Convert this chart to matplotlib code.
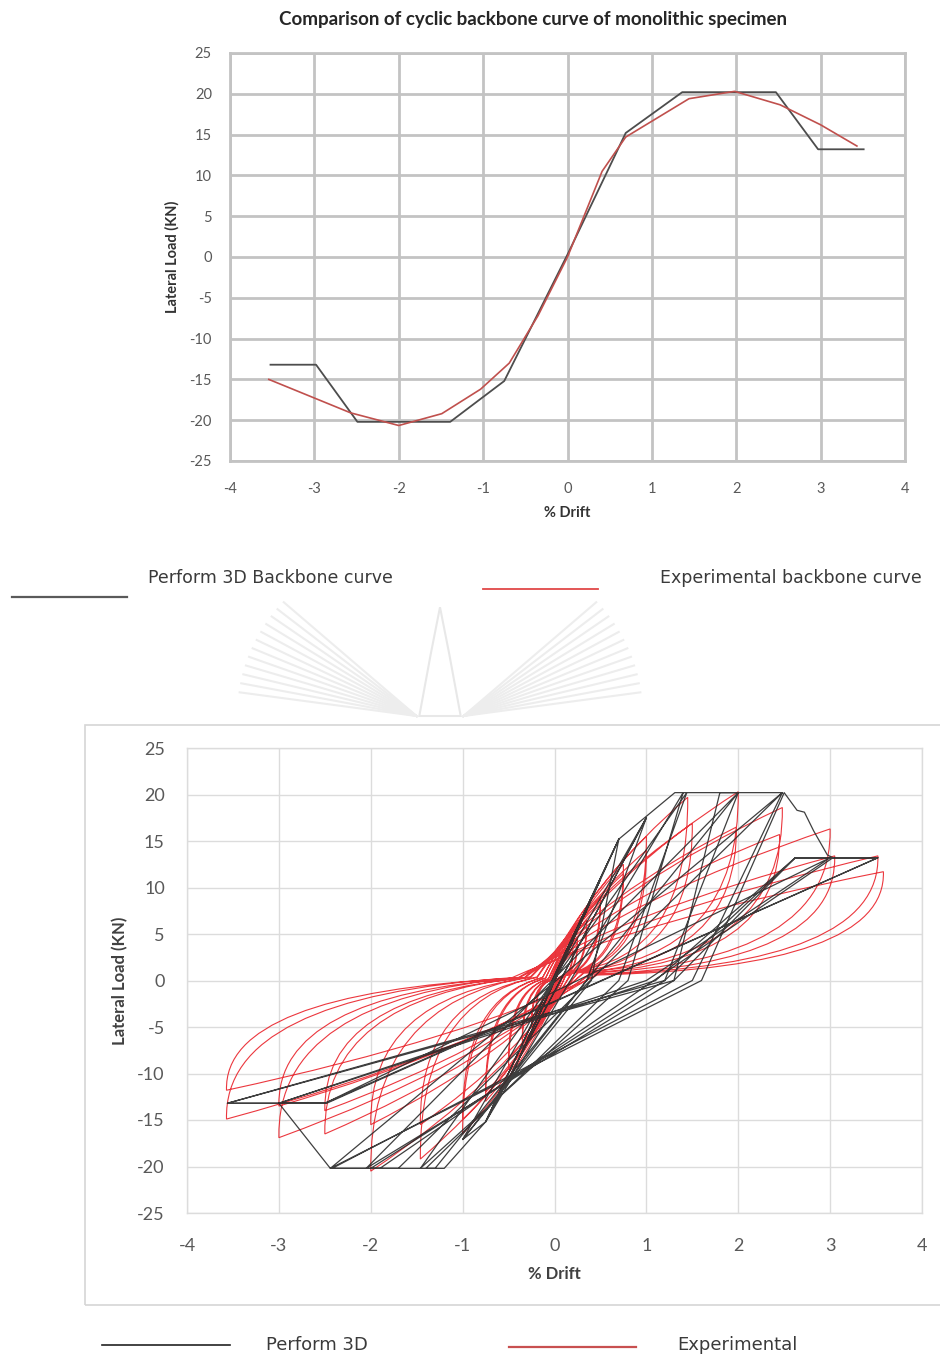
import numpy as np
import matplotlib
matplotlib.use("Agg")
import matplotlib.pyplot as plt
from matplotlib.path import Path
from matplotlib.patches import PathPatch, Rectangle, Polygon
from matplotlib.lines import Line2D

plt.rcParams['font.family'] = ['Lato', 'DejaVu Sans']
plt.rcParams['axes.unicode_minus'] = False

# --- top chart: backbone curves ---
pf3d_bb_x = [-3.52, -2.98, -2.49, -1.39, -0.75, 0.0, 0.69, 1.36, 2.47, 2.97, 3.51]
pf3d_bb_y = [-13.2, -13.2, -20.2, -20.2, -15.2, 0.3, 15.2, 20.2, 20.2, 13.2, 13.2]
exp_bb_x = [-3.54, -2.57, -2.0, -1.49, -1.03, -0.69, -0.35, 0.0, 0.41, 0.69, 1.44, 1.98, 2.52, 3.0, 3.43]
exp_bb_y = [-15.0, -19.1, -20.65, -19.2, -16.2, -13.0, -7.2, 0.0, 10.5, 14.7, 19.4, 20.3, 18.65, 16.2, 13.6]

# --- bottom chart: Perform 3D cyclic path (vertices in order) ---
pf3d_cyc_x = [0.0,
              0.2, -0.2, 0.2, -0.2,
              0.35, -0.35, 0.35, -0.35,
              0.5, -0.5, 0.5, -0.5,
              0.7, -0.75, 0.7, -0.75,
              1.0, -0.75, -1.0, 0.35, 1.0, -1.0, 0.4,
              0.7, 1.31, 1.4, -0.75, -1.2, -1.4, 0.7, 1.44, -1.46, 0.8,
              1.4, 2.0, -1.3, -2.0, 1.2, 2.0, -2.05, 1.3,
              1.8, 2.48, -1.7, -2.42, 1.5, 2.48, -2.44, 1.6,
              2.5, 2.64, 2.72, 2.82, 2.97, 3.03, -1.9, -2.44, -3.0, 1.0, 3.0, -2.5, -3.0, 1.1,
              2.62, 3.52, -2.48, -3.56, 1.2, 2.62, 3.52, -2.5, -3.56, 1.3, 2.62, 3.5]
pf3d_cyc_y = [0.0,
              4.3, -4.3, 4.3, -4.3,
              7.6, -7.6, 7.6, -7.6,
              10.9, -10.9, 10.9, -10.9,
              15.2, -15.2, 15.2, -15.2,
              17.5, -15.2, -17.1, 0.0, 17.5, -17.1, 0.0,
              15.2, 20.2, 20.2, -15.2, -20.2, -20.2, 0.0, 20.2, -20.2, 0.0,
              20.2, 20.2, -20.2, -20.2, 0.0, 20.2, -20.2, 0.0,
              20.2, 20.2, -20.2, -20.2, 0.0, 20.2, -20.2, 0.0,
              20.2, 18.3, 18.1, 16.1, 13.5, 13.2, -20.2, -20.2, -13.2, 0.0, 13.2, -13.2, -13.2, 0.0,
              13.2, 13.2, -13.2, -13.2, 0.0, 13.2, 13.2, -13.2, -13.2, 0.0, 13.2, 13.2]

# --- bottom chart: experimental cycle peaks ---
exp_pos_x = [0.2, 0.2, 0.25, 0.25, 0.35, 0.35, 0.5, 0.5, 0.75, 0.75, 1.0, 1.0,
             1.45, 1.5, 2.0, 1.98, 2.48, 2.45, 3.0, 3.05, 3.52, 3.58]
exp_pos_y = [3.5, 3.0, 4.5, 4.0, 6.5, 5.8, 9.0, 8.2, 12.5, 11.5, 15.5, 14.0,
             19.7, 16.9, 20.3, 16.5, 18.6, 15.7, 16.3, 13.4, 13.4, 11.7]
exp_neg_x = [-0.2, -0.2, -0.25, -0.25, -0.35, -0.35, -0.5, -0.5, -0.75, -0.75, -1.0, -1.0,
             -1.46, -1.46, -2.0, -2.0, -2.5, -2.5, -3.0, -3.0, -3.57, -3.57]
exp_neg_y = [-3.5, -3.0, -5.0, -4.5, -7.0, -6.2, -9.5, -8.5, -13.0, -12.0, -16.5, -15.0,
             -19.2, -15.5, -20.5, -15.5, -16.5, -14.0, -16.9, -13.5, -14.9, -11.8]

fig = plt.figure(figsize=(9.4, 13.6), dpi=100)

# ================= top chart =================
ax1 = fig.add_axes([230/940, 1-461/1360, 675/940, 408/1360])
ax1.plot(pf3d_bb_x, pf3d_bb_y, color='#4d4d4d', lw=1.3, zorder=3)
ax1.plot(exp_bb_x, exp_bb_y, color='#c0504d', lw=1.2, zorder=4)
ax1.set_xlim(-4, 4)
ax1.set_ylim(-25, 25)
ax1.set_xticks(range(-4, 5))
ax1.set_yticks(range(-25, 26, 5))
ax1.grid(True, color='#c3c3c3', lw=2.0)
ax1.set_axisbelow(True)
for s in ax1.spines.values():
    s.set_color('#c3c3c3')
    s.set_linewidth(2.0)
ax1.tick_params(length=0, labelsize=10.5, labelcolor='#595959')
ax1.tick_params(axis='y', pad=13)
ax1.tick_params(axis='x', pad=15)
ax1.text(-0.086, 0.5, 'Lateral Load (KN)', transform=ax1.transAxes, rotation=90,
         ha='center', va='center', fontsize=10.5, fontweight='bold', color='#333333')
ax1.text(0.5, -0.128, '% Drift', transform=ax1.transAxes, ha='center', va='center',
         fontsize=10.5, fontweight='bold', color='#333333')
fig.text(533/940, 1-19/1360, 'Comparison of cyclic backbone curve of monolithic specimen',
         ha='center', va='center', fontsize=13.5, fontweight='bold', color='#262626')

# top legend
fig.add_artist(Line2D([12/940, 127/940], [1-597/1360]*2, color='#5a5a5a', lw=1.6))
fig.add_artist(Line2D([483/940, 598/940], [1-589/1360]*2, color='#e04848', lw=1.3))
fig.text(148/940, 1-578/1360, 'Perform 3D Backbone curve', family='DejaVu Sans',
         fontsize=12.5, color='#3a3a3a', va='center')
fig.text(660/940, 1-578/1360, 'Experimental backbone curve', family='DejaVu Sans',
         fontsize=12.5, color='#3a3a3a', va='center')

# faint watermark emblem
cx, cy = 440/940, 1-716/1360
for ang in np.linspace(138, 172, 12):
    fig.add_artist(Line2D([cx - 0.025, cx - 0.025 + 0.19*np.cos(np.radians(ang))],
                          [cy, cy + 0.125*np.sin(np.radians(ang))], color='#ededed', lw=1.5))
for ang in np.linspace(8, 42, 12):
    fig.add_artist(Line2D([cx + 0.025, cx + 0.025 + 0.19*np.cos(np.radians(ang))],
                          [cy, cy + 0.125*np.sin(np.radians(ang))], color='#ededed', lw=1.5))
fig.add_artist(Polygon([(cx - 0.022, cy), (cx - 0.01, cy + 0.045), (cx, cy + 0.08),
                        (cx + 0.01, cy + 0.045), (cx + 0.022, cy)], closed=True,
                       fc='none', ec='#e8e8e8', lw=1.5))

# ================= bottom chart =================
fig.add_artist(Rectangle((85/940, 1-1305/1360), 870/940, 580/1360, fc='none',
                         ec='#d6d6d6', lw=1.2))
ax2 = fig.add_axes([187/940, 1-1213/1360, 735/940, 465/1360])
ax2.set_xlim(-4, 4)
ax2.set_ylim(-25, 25)
ax2.set_xticks(range(-4, 5))
ax2.set_yticks(range(-25, 26, 5))
ax2.grid(True, color='#dcdcdc', lw=1.0)
ax2.set_axisbelow(True)
for s in ax2.spines.values():
    s.set_color('#dcdcdc')
    s.set_linewidth(1.0)
ax2.tick_params(length=0, labelsize=13, labelcolor='#595959')
ax2.tick_params(axis='y', pad=16)
ax2.tick_params(axis='x', pad=18)

# experimental loops: load along a curved branch, unload steeply then flat (pinched)
verts, codes = [], []
sx, sy = 0.0, 0.0
verts.append((sx, sy)); codes.append(Path.MOVETO)
for px, py, nx, ny in zip(exp_pos_x, exp_pos_y, exp_neg_x, exp_neg_y):
    for tx, ty in ((px, py), (nx, ny)):
        verts += [(sx + 0.35*(tx - sx), sy + 0.55*(ty - sy)), (tx, ty)]
        codes += [Path.CURVE3, Path.CURVE3]
        ex, ey = 0.13*tx, (0.05*ty if ty > 0 else 0.02*abs(ty))
        verts += [(tx*1.01, 0.12*ty), (ex, ey)]
        codes += [Path.CURVE3, Path.CURVE3]
        sx, sy = ex, ey
ax2.add_patch(PathPatch(Path(verts, codes), fc='none', ec='#e8141c', lw=0.8, alpha=0.85, zorder=3))

ax2.plot(pf3d_cyc_x, pf3d_cyc_y, color='#2a2a2a', lw=0.9, alpha=0.9, zorder=4)

ax2.text(-0.091, 0.5, 'Lateral Load (KN)', transform=ax2.transAxes, rotation=90,
         ha='center', va='center', fontsize=12, fontweight='bold', color='#404040')
ax2.text(0.5, -0.131, '% Drift', transform=ax2.transAxes, ha='center', va='center',
         fontsize=12, fontweight='bold', color='#404040')

# bottom legend
fig.add_artist(Line2D([102/940, 230/940], [1-1345/1360]*2, color='#222222', lw=1.2))
fig.add_artist(Line2D([509/940, 636/940], [1-1347/1360]*2, color='#c85050', lw=1.6))
fig.text(266/940, 1-1345/1360, 'Perform 3D', family='DejaVu Sans',
         fontsize=13, color='#3a3a3a', va='center')
fig.text(677/940, 1-1345/1360, 'Experimental', family='DejaVu Sans',
         fontsize=13, color='#3a3a3a', va='center')

fig.savefig('out.png', dpi=100)
